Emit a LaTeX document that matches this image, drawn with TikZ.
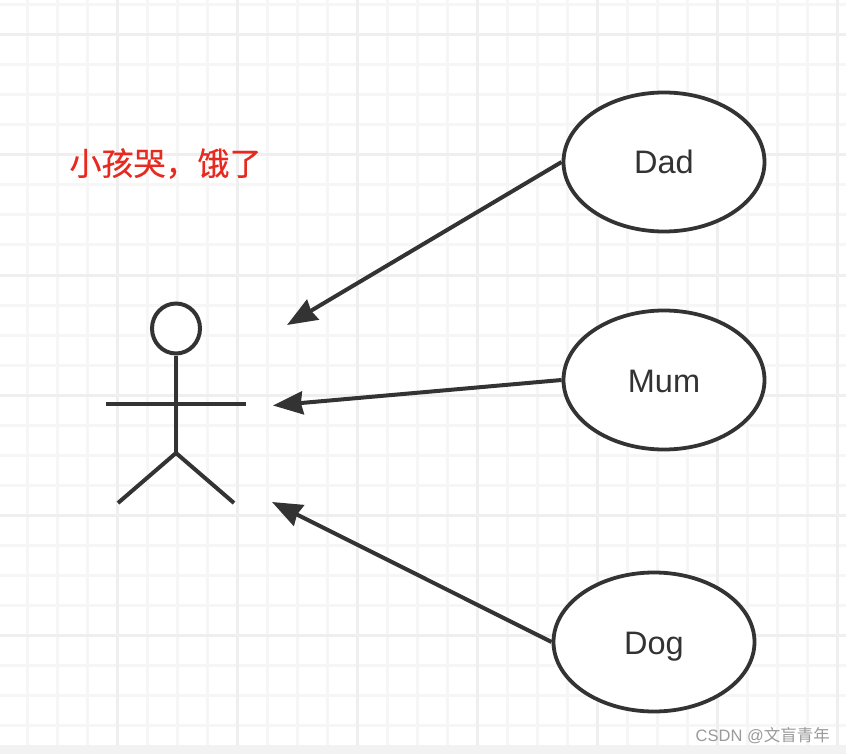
\documentclass[tikz,border=0pt]{standalone}
\usepackage{fontspec}
\setmainfont{Liberation Sans}
\newfontfamily\cjkfont{Noto Sans CJK SC}
\newfontfamily\cjkheavy[FakeBold=0.4]{Noto Sans CJK SC}
\usetikzlibrary{arrows.meta,shapes.geometric}
\definecolor{ink}{HTML}{333333}
\definecolor{gridminor}{HTML}{F6F6F6}
\definecolor{gridmajor}{HTML}{EFEFEF}
\definecolor{strip}{HTML}{F2F2F2}
\definecolor{redtext}{HTML}{E8291F}
\definecolor{mark}{HTML}{9A9A9A}
\tikzset{
  minorline/.style={draw=gridminor,line width=3pt},
  majorline/.style={draw=gridmajor,line width=3pt},
  usecase/.style={ellipse,draw=ink,fill=white,line width=3.8pt,minimum width=201pt,minimum height=139pt,inner sep=0pt,text=ink,text height=24pt,text depth=0pt,font=\fontsize{32.5}{36}\selectfont},
  limb/.style={draw=ink,line width=4pt},
  link/.style={draw=ink,line width=4pt,-{Stealth[length=30pt,width=23pt,inset=2pt]},shorten >=0pt},
}
\begin{document}
\begin{tikzpicture}[x=1pt,y=-1pt]
\useasboundingbox (0,0) rectangle (846,754);
\fill[white] (0,0) rectangle (846,754);
% grid
\foreach \gx in {27,57,87,147,177,207,267,297,327,387,417,447,507,537,567,627,657,687,747,777,807}
  \draw[minorline] (\gx,0) -- (\gx,745);
\foreach \gy in {5,65,95,125,185,215,245,305,335,365,425,455,485,545,575,605,665,695,725}
  \draw[minorline] (0,\gy) -- (846,\gy);
\foreach \gx in {117,237,357,477,597,717,837}
  \draw[majorline] (\gx,0) -- (\gx,745);
\foreach \gy in {35,155,275,395,515,635}
  \draw[majorline] (0,\gy) -- (846,\gy);
\fill[strip] (0,745) rectangle (846,754);
% heading
\node[text=redtext,font=\cjkheavy\fontsize{32}{36}\selectfont,inner sep=0pt,anchor=center] (title) at (165.5,163.5) {小孩哭，饿了};
% actor
\node[ellipse,draw=ink,fill=white,line width=4pt,minimum width=48pt,minimum height=50pt,inner sep=0pt] (head) at (176,328.5) {};
\coordinate (hip) at (176,453);
\coordinate (armL) at (106,404);
\coordinate (armR) at (246,404);
\coordinate (footL) at (118,503);
\coordinate (footR) at (234,503);
\draw[limb] (head.south) -- (hip);
\draw[limb] (armL) -- (armR);
\draw[limb] (footL) -- (hip) -- (footR);
% use cases
\node[usecase] (dad) at (664,162) {Dad};
\node[usecase] (mum) at (664,380) {Mum};
\node[usecase] (dog) at (654,642) {Dog};
% arrow targets
\coordinate (tipDad) at (287,325);
\coordinate (tipMum) at (273,405.5);
\coordinate (tipDog) at (272,502);
\draw[link] (dad.west) -- (tipDad);
\draw[link] (mum.west) -- (tipMum);
\draw[link] (dog.west) -- (tipDog);
% watermark
\node[text=mark,font=\fontsize{16.5}{18}\selectfont,inner sep=0pt,anchor=east] (wm) at (830,736) {CSDN @{\cjkfont 文盲青年}};
\end{tikzpicture}
\end{document}
